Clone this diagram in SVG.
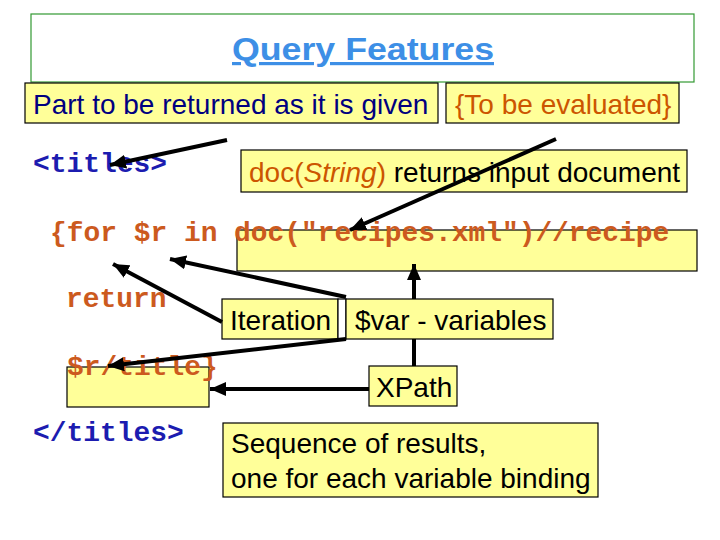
<svg xmlns="http://www.w3.org/2000/svg" width="720" height="540" viewBox="0 0 720 540">
<style>
.box{fill:#ffff99;stroke:#000;stroke-width:1.2}
.sans{font-family:"Liberation Sans",Arial,sans-serif;font-size:28px}
.code{font-family:"Liberation Mono","Courier New",monospace;font-weight:bold;font-size:27.9px}
.org{fill:#cc5a1e}
.blu{fill:#1c1cb0}
.con{stroke:#000;stroke-width:4;fill:none}
</style>
<defs>
<marker id="ah" markerUnits="userSpaceOnUse" markerWidth="18" markerHeight="14" refX="16" refY="7" orient="auto">
<path d="M0,0 L16,7 L0,14 Z" fill="#000"/>
</marker>
</defs>
<rect width="720" height="540" fill="#fff"/>
<g id="title">
<rect x="31" y="14" width="663" height="68" fill="#fff" stroke="#339933" stroke-width="1.2"/>
<text x="232" y="60" textLength="262" lengthAdjust="spacingAndGlyphs" font-family="'Liberation Sans',Arial,sans-serif" font-weight="bold" font-size="32" fill="#3d8fe6" text-decoration="underline">Query Features</text>
</g>
<g id="part">
<rect class="box" x="25" y="83" width="413" height="40"/>
<text class="sans" x="33" y="114" fill="#000080">Part to be returned as it is given</text>
</g>
<g id="evaluated">
<rect class="box" x="446" y="83" width="233" height="40"/>
<text class="sans" x="455" y="114" fill="#cc5500">{To be evaluated}</text>
</g>
<g id="doc">
<rect class="box" x="241" y="150" width="446" height="42"/>
<text class="sans" x="249" y="182"><tspan fill="#cc5500">doc(</tspan><tspan fill="#cc5500" font-style="italic">String</tspan><tspan fill="#cc5500">)</tspan><tspan fill="#000"> returns input document</tspan></text>
</g>
<g id="recipebox"><rect class="box" x="237" y="230" width="460" height="41"/></g>
<g id="rbox"><rect class="box" x="67" y="367" width="142" height="40"/></g>
<g id="code">
<text class="code blu" x="33" y="172">&lt;titles&gt;</text>
<text class="code org" x="50" y="241">{for $r in doc("recipes.xml")//recipe</text>
<text class="code org" x="66" y="307">return</text>
<text class="code org" x="67" y="375">$r/title}</text>
<text class="code blu" x="33" y="441">&lt;/titles&gt;</text>
</g>
<g id="iteration">
<rect class="box" x="222" y="299" width="116" height="40"/>
<text class="sans" x="230" y="330">Iteration</text>
</g>
<g id="gap"><rect x="338" y="299" width="8" height="40" fill="#fff" stroke="#000" stroke-width="1.2"/></g>
<g id="var">
<rect class="box" x="346" y="299" width="207" height="40"/>
<text class="sans" x="355" y="330">$var - variables</text>
</g>
<g id="xpath">
<rect class="box" x="369" y="366" width="88" height="40"/>
<text class="sans" x="376" y="397">XPath</text>
</g>
<g id="sequence">
<rect class="box" x="223" y="423" width="375" height="74"/>
<text class="sans" x="231" y="453">Sequence of results,</text>
<text class="sans" x="231" y="488">one for each variable binding</text>
</g>
<g id="connectors">
<line class="con" x1="227" y1="140" x2="110" y2="165" marker-end="url(#ah)"/>
<line class="con" x1="556" y1="139" x2="350" y2="230" marker-end="url(#ah)"/>
<line class="con" x1="222" y1="322" x2="113" y2="264" marker-end="url(#ah)"/>
<line class="con" x1="346" y1="297" x2="170" y2="259" marker-end="url(#ah)"/>
<line class="con" x1="414" y1="299" x2="414" y2="264" marker-end="url(#ah)"/>
<line class="con" x1="346" y1="339" x2="108" y2="366" marker-end="url(#ah)"/>
<line class="con" x1="414" y1="339" x2="414" y2="366"/>
<line class="con" x1="369" y1="389" x2="210" y2="389" marker-end="url(#ah)"/>
</g>
</svg>
